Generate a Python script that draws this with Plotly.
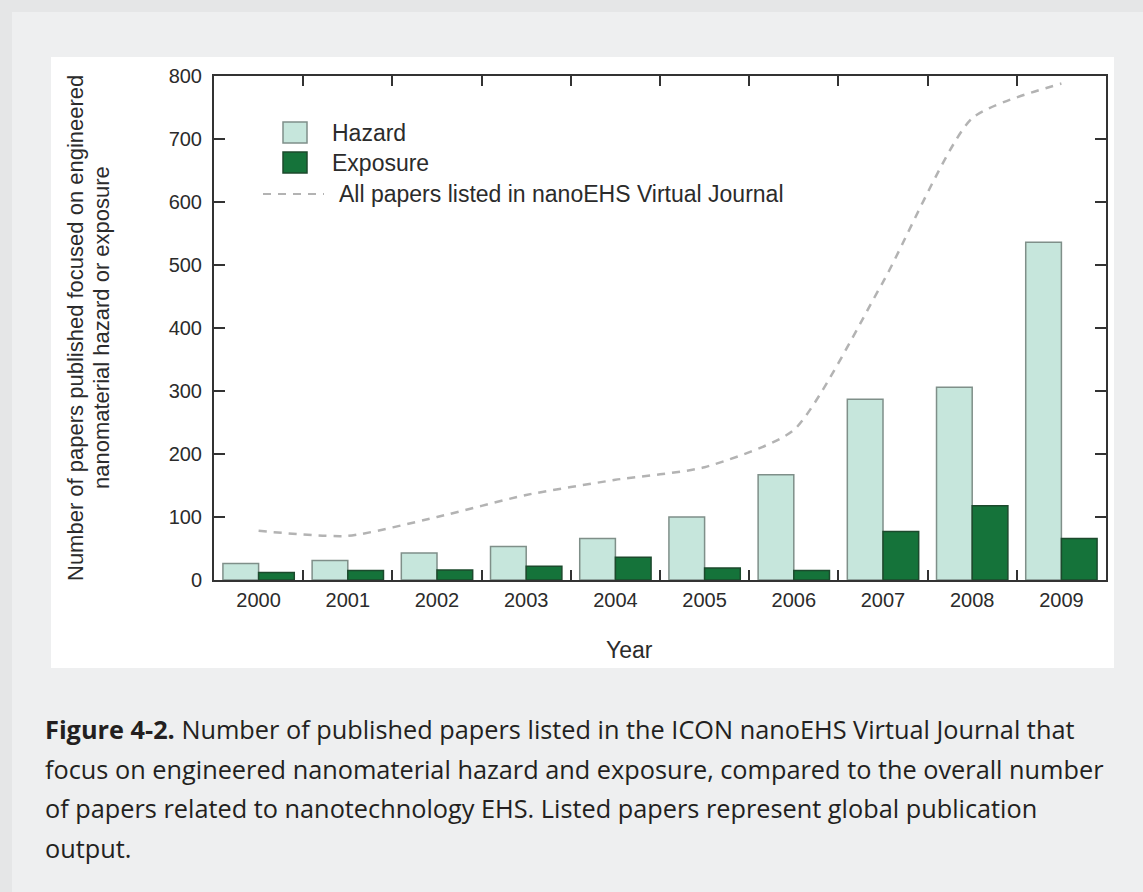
import plotly.graph_objects as go

years = ["2000", "2001", "2002", "2003", "2004", "2005", "2006", "2007", "2008", "2009"]
hazard = [26, 31, 43, 53, 66, 100, 167, 287, 306, 536]
exposure = [12, 15, 16, 22, 36, 19, 15, 77, 118, 66]
all_papers = [78, 70, 100, 135, 159, 179, 238, 473, 733, 788]

y_ticks = [0, 100, 200, 300, 400, 500, 600, 700, 800]

legend_labels = ["Hazard", "Exposure", "All papers listed in nanoEHS Virtual Journal"]
y_title_lines = ["Number of papers published focused on engineered",
                 "nanomaterial hazard or exposure"]
x_title = "Year"
caption_lines = [
    "<b>Figure 4-2.</b> Number of published papers listed in the ICON nanoEHS Virtual Journal that",
    "focus on engineered nanomaterial hazard and exposure, compared to the overall number",
    "of papers related to nanotechnology EHS. Listed papers represent global publication",
    "output.",
]

W, H = 1143, 892
L, R, T, B = 214, 1106, 76, 580


def px(x):
    return (x - L) / (R - L)


def py(y):
    return (B - y) / (B - T)


HAZ_FILL, HAZ_LINE = "#c6e6dc", "#7f8f89"
EXP_FILL, EXP_LINE = "#15733a", "#1c4a2d"
DASH_COL = "#b3b3b3"
AX_COL = "#333333"
FONT = "Liberation Sans, Arial, sans-serif"

fig = go.Figure()
fig.add_trace(go.Bar(x=years, y=hazard, name=legend_labels[0],
                     marker=dict(color=HAZ_FILL, line=dict(color=HAZ_LINE, width=1.5))))
fig.add_trace(go.Bar(x=years, y=exposure, name=legend_labels[1],
                     marker=dict(color=EXP_FILL, line=dict(color=EXP_LINE, width=1.5))))
fig.add_trace(go.Scatter(x=years, y=all_papers, name=legend_labels[2], mode="lines",
                         line=dict(color=DASH_COL, width=2.5, dash="8px,7px",
                                   shape="spline", smoothing=0.6)))

shapes = []
annotations = []

# background card and white panel
shapes.append(dict(type="rect", xref="paper", yref="paper", layer="below",
                   x0=px(12), x1=px(1160), y0=py(12), y1=py(910),
                   fillcolor="#eeeff0", line=dict(width=0)))
shapes.append(dict(type="rect", xref="paper", yref="paper", layer="below",
                   x0=px(51), x1=px(1114), y0=py(57), y1=py(668),
                   fillcolor="#ffffff", line=dict(width=0)))

# manual legend
shapes.append(dict(type="rect", xref="paper", yref="paper",
                   x0=px(283), x1=px(307), y0=py(122), y1=py(143),
                   fillcolor=HAZ_FILL, line=dict(color=HAZ_LINE, width=1.5)))
shapes.append(dict(type="rect", xref="paper", yref="paper",
                   x0=px(283), x1=px(307), y0=py(152), y1=py(173),
                   fillcolor=EXP_FILL, line=dict(color=EXP_LINE, width=1.5)))
shapes.append(dict(type="line", xref="paper", yref="paper",
                   x0=px(263), x1=px(324), y0=py(194), y1=py(194),
                   line=dict(color=DASH_COL, width=2, dash="8px,7px")))
for lbl, xx, yy in [(legend_labels[0], 330, 133), (legend_labels[1], 330, 163),
                    (legend_labels[2], 337, 194)]:
    annotations.append(dict(text=lbl, xref="paper", yref="paper", x=px(xx), y=py(yy),
                            xanchor="left", yanchor="middle", showarrow=False,
                            font=dict(family=FONT, size=23, color="#2b2b2b")))

# axis titles
for line, xx in zip(y_title_lines, [75, 101]):
    annotations.append(dict(text=line, xref="paper", yref="paper", x=px(xx), y=py(328),
                            xanchor="center", yanchor="middle", textangle=-90,
                            showarrow=False,
                            font=dict(family=FONT, size=22, color="#2b2b2b")))
annotations.append(dict(text=x_title, xref="paper", yref="paper", x=px(629), y=py(650),
                        xanchor="center", yanchor="middle", showarrow=False,
                        font=dict(family=FONT, size=23, color="#2b2b2b")))

# caption
for i, line in enumerate(caption_lines):
    annotations.append(dict(text=line, xref="paper", yref="paper", x=px(43),
                            y=py(729 + 39.5 * i), xanchor="left", yanchor="middle",
                            showarrow=False,
                            font=dict(family="Open Sans, sans-serif", size=25.3,
                                      color="#231f20")))

fig.update_layout(
    width=W, height=H,
    margin=dict(l=L, r=W - R, t=T, b=H - B, pad=0),
    paper_bgcolor="#e5e6e7",
    plot_bgcolor="#ffffff",
    barmode="group", bargap=0.2, bargroupgap=0,
    showlegend=False,
    shapes=shapes,
    annotations=annotations,
    xaxis=dict(type="category", tickson="boundaries", ticks="inside", ticklen=10,
               tickwidth=2, tickcolor=AX_COL, showline=True, linecolor=AX_COL,
               linewidth=2, mirror="ticks", showgrid=False, zeroline=False,
               tickfont=dict(family=FONT, size=20, color="#2b2b2b"),
               ticklabelstandoff=1),
    yaxis=dict(range=[0, 800], tickvals=y_ticks, ticks="inside", ticklen=11,
               tickwidth=2, tickcolor=AX_COL, showline=True, linecolor=AX_COL,
               linewidth=2, mirror="ticks", showgrid=False, zeroline=False,
               tickfont=dict(family=FONT, size=20, color="#2b2b2b"),
               ticklabelstandoff=6),
)

fig.write_html("out.html", config={"displayModeBar": False},
               post_script="document.body.style.margin='0';"
                           "document.body.style.overflow='hidden';")
